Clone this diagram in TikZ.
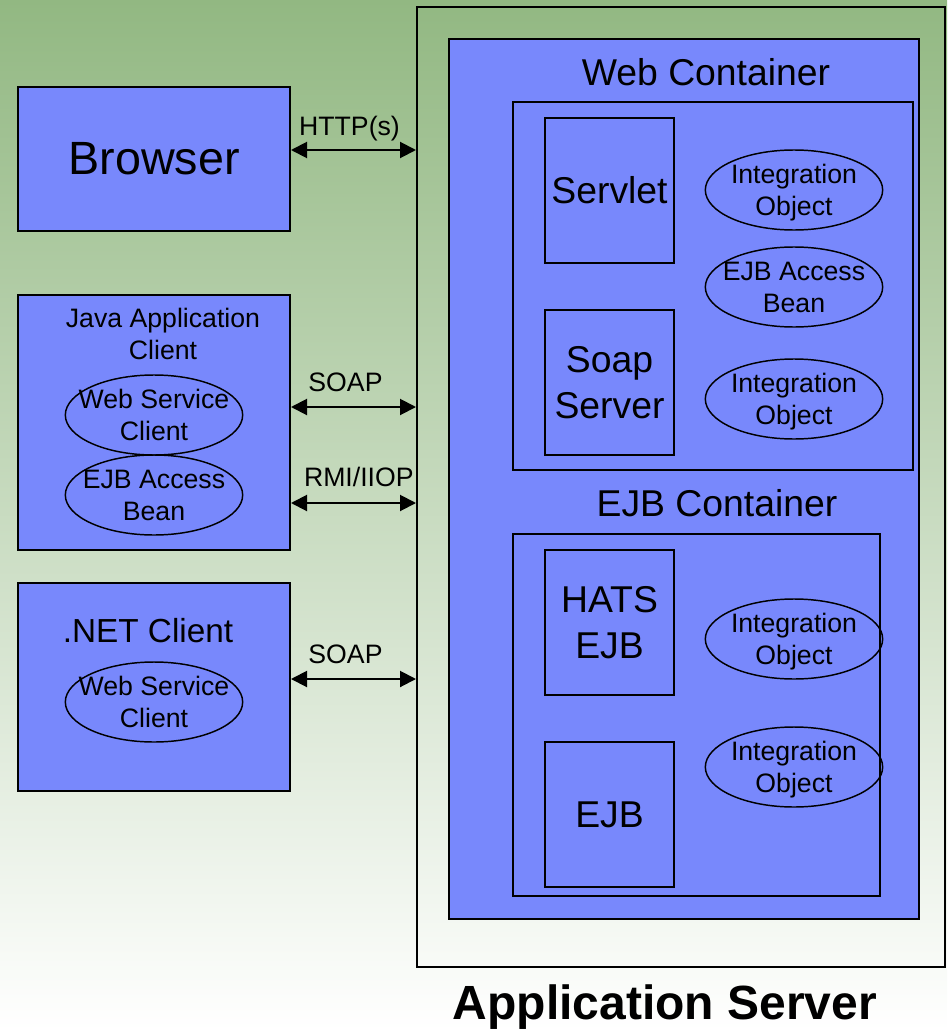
\documentclass[tikz,border=0pt]{standalone}
\usepackage{fontspec}
\setmainfont{Liberation Sans}
\usetikzlibrary{arrows.meta, shapes, positioning}

\definecolor{boxblue}{RGB}{120,136,252}
\definecolor{bggreen}{RGB}{146,184,130}

\begin{document}
\begin{tikzpicture}[x=0.75pt, y=-0.75pt,
    frame/.style={draw=black, line width=1.5pt, inner sep=0pt},
    box/.style={frame, fill=boxblue},
    oval/.style={ellipse, draw=black, line width=1.1pt, minimum width=133pt, minimum height=60pt,
        inner xsep=-25pt, inner ysep=-6pt, text depth=0pt, align=center, font=\fontsize{20}{24}\selectfont},
    big/.style={align=center, font=\fontsize{28}{34}\selectfont},
    small/.style={align=center, font=\fontsize{20}{24}\selectfont},
    link/.style={{Triangle[length=12pt, width=12pt]}-{Triangle[length=12pt, width=12pt]}, line width=1.5pt}]

    \useasboundingbox (0,0) rectangle (947,1031);
    \shade[top color=bggreen, bottom color=white] (0,0) rectangle (947,1031);

    %% Application server

    % Outer frame and containers
    \node[frame, minimum width=396pt, minimum height=720pt] (appsrv) at (681,487) {};
    \node[box, minimum width=352.5pt, minimum height=660pt] (cont) at (684,479) {};
    \node[big] (webtitle) at (706,72) {Web Container};
    \node[box, minimum width=300pt, minimum height=276pt] (webc) at (713,286) {};
    \node[big] (ejbtitle) at (717,503) {EJB Container};
    \node[box, minimum width=275.25pt, minimum height=271.5pt] (ejbc) at (696.5,715) {};

    % Web container parts
    \node[box, big, minimum width=96.75pt, minimum height=108.75pt] (servlet) at (609.5,190.5) {Servlet};
    \node[box, big, minimum width=96.75pt, minimum height=108.75pt] (soapsrv) at (609.5,382.5) {Soap\\Server};
    \node[oval] (webio1) at (794,190) {Integration\\Object};
    \node[oval] (webbean) at (794,287) {EJB Access\\Bean};
    \node[oval] (webio2) at (794,399) {Integration\\Object};

    % EJB container parts
    \node[box, big, minimum width=96.75pt, minimum height=108.75pt] (hats) at (609.5,622.5) {HATS\\EJB};
    \node[box, big, minimum width=96.75pt, minimum height=108.75pt] (ejb) at (609.5,814.5) {EJB};
    \node[oval] (ejbio1) at (794,639) {Integration\\Object};
    \node[oval] (ejbio2) at (794,767) {Integration\\Object};

    \node[font=\bfseries\fontsize{36}{40}\selectfont] (srvtitle) at (665,1007) {Application Server};

    %% Clients

    % Browser
    \node[box, minimum width=204pt, minimum height=108pt, font=\fontsize{35}{40}\selectfont] (browser) at (154,159) {Browser};

    % Java application client
    \node[box, minimum width=204pt, minimum height=191.25pt] (javac) at (154,422.5) {};
    \node[small] (javatitle) at (163,334) {Java Application\\Client};
    \node[oval] (javaws) at (154,415) {Web Service\\Client};
    \node[oval] (javabean) at (154,495) {EJB Access\\Bean};

    % .NET client
    \node[box, minimum width=204pt, minimum height=156pt] (netc) at (154,687) {};
    \node[font=\fontsize{25}{30}\selectfont] (nettitle) at (148,631) {.NET Client};
    \node[oval] (netws) at (154,702) {Web Service\\Client};

    %% Protocols
    \coordinate (httpy) at (0,150);
    \coordinate (soapy) at (0,407);
    \coordinate (rmiy) at (0,503);
    \coordinate (netsoapy) at (0,679);

    \draw[link] (browser.east |- httpy) -- (appsrv.west |- httpy) node[small, midway, above, xshift=-3pt, yshift=3pt] (httplbl) {HTTP(s)};
    \draw[link] (javac.east |- soapy) -- (appsrv.west |- soapy) node[small, midway, above, xshift=-6pt, yshift=7pt] (soaplbl) {SOAP};
    \draw[link] (javac.east |- rmiy) -- (appsrv.west |- rmiy) node[small, midway, above, xshift=4pt, yshift=8pt] (rmilbl) {RMI/IIOP};
    \draw[link] (netc.east |- netsoapy) -- (appsrv.west |- netsoapy) node[small, midway, above, xshift=-6pt, yshift=7pt] (netsoaplbl) {SOAP};

\end{tikzpicture}
\end{document}
